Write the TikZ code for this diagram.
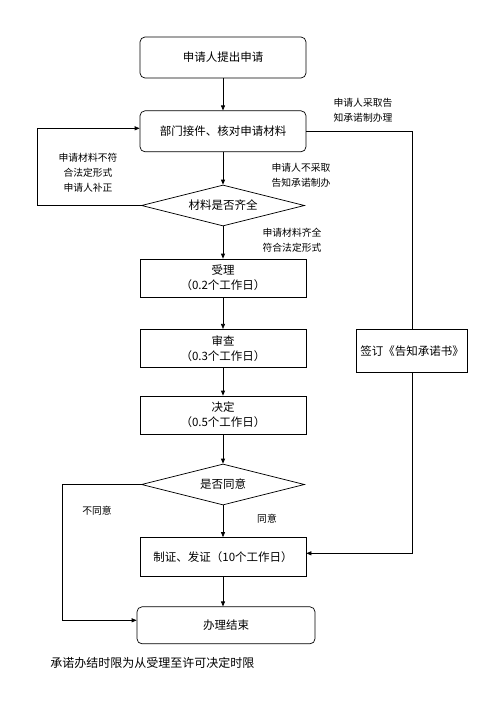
\documentclass[tikz,border=0pt]{standalone}
\usepackage{fontspec}
\setmainfont{Noto Sans CJK SC}
\usetikzlibrary{shapes.geometric, arrows.meta}

\begin{document}
\begin{tikzpicture}[x=1pt, y=-1pt, line width=0.7pt,
    box/.style={draw, minimum width=166pt, minimum height=38pt, align=center,
        inner sep=2pt, font=\fontsize{11.5}{15}\selectfont},
    roundbox/.style={box, rounded corners=5pt},
    check/.style={draw, diamond, aspect=4, minimum width=163pt,
        minimum height=41pt, inner sep=0pt, font=\fontsize{11.5}{13}\selectfont},
    note/.style={inner sep=0pt, align=center, font=\fontsize{9.8}{15}\selectfont},
    arrow/.style={-{Triangle[length=5pt, width=4pt]}}]
\useasboundingbox (0, 0) rectangle (482, 712);

% Draw main steps.
\node[roundbox, minimum height=41pt] (apply) at (223, 57.5) {申请人提出申请};
\node[roundbox, minimum height=41pt] (receive) at (223, 131.3) {部门接件、核对申请材料};
\node[check] (complete) at (223, 205.5) {材料是否齐全};
\node[box] (accept) at (223, 278) {受理\\（0.2个工作日）};
\node[box] (review) at (223, 348.3) {审查\\（0.3个工作日）};
\node[box] (decide) at (223, 415) {决定\\（0.5个工作日）};
\node[check] (agree) at (223, 484.5) {是否同意};
\node[box, minimum height=39pt] (license) at (223, 557) {制证、发证（10个工作日）};
\node[roundbox, minimum width=178pt, minimum height=37pt] (finish) at (226, 625.3) {办理结束};
\node[box, minimum width=111pt, minimum height=43pt] (sign) at (412, 350.8) {签订《告知承诺书》};

% Draw main flow.
\foreach \a/\b in {apply/receive, receive/complete, complete/accept, accept/review,
    review/decide, decide/agree, agree/license, license/finish}
    \draw[arrow] (\a.south) -- (\a.south |- \b.north);

% Draw side branches.
\coordinate (fixBend) at (37, 128.3);
\draw[arrow] (complete.west) -| (fixBend) -- (fixBend -| receive.west);
\coordinate (noBend) at (62, 620.3);
\draw[arrow] (agree.west) -| (noBend) -- (noBend -| finish.west);
\draw (receive.east) -| (sign.north);
\coordinate (signBend) at (412, 553.3);
\draw[arrow] (sign.south) -- (signBend) -- (signBend -| license.east);

% Draw branch notes.
\node[note] (fixNote) at (88, 173) {申请材料不符\\合法定形式\\申请人补正};
\node[note, align=left] (skipNote) at (301, 175) {申请人不采取\\告知承诺制办};
\node[note, align=left] (takeNote) at (363, 110) {申请人采取告\\知承诺制办理};
\node[note, align=left] (okNote) at (292, 240) {申请材料齐全\\符合法定形式};
\node[note] (noNote) at (97, 511) {不同意};
\node[note] (yesNote) at (267, 519) {同意};
\node[anchor=west, inner sep=0pt, font=\fontsize{12}{14}\selectfont]
    (limitNote) at (50, 663) {承诺办结时限为从受理至许可决定时限};

\end{tikzpicture}
\end{document}
